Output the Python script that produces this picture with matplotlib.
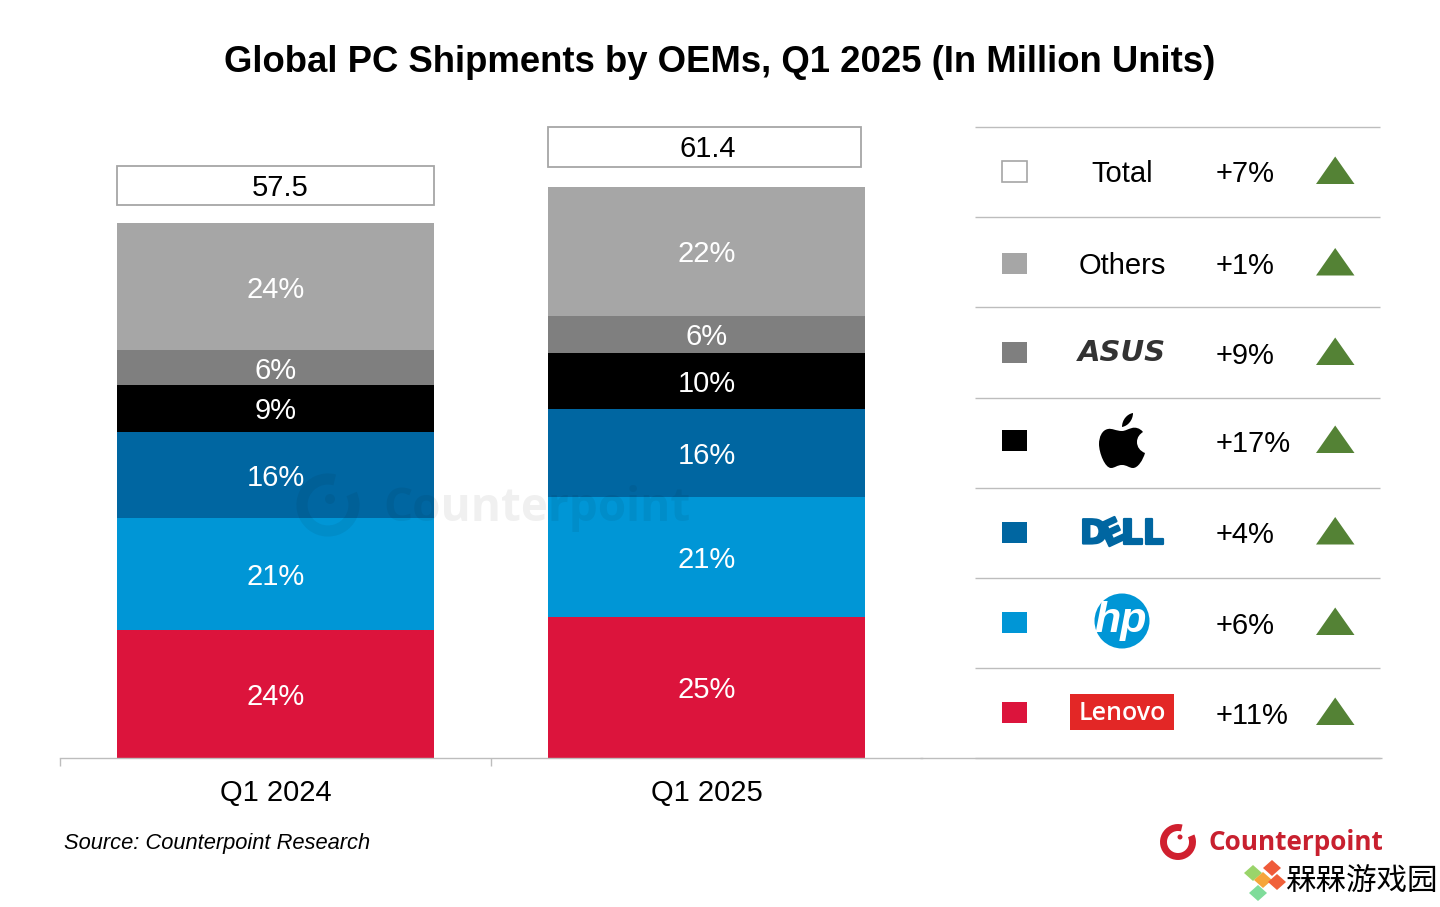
import matplotlib
matplotlib.use('Agg')
import matplotlib.pyplot as plt
import matplotlib.patheffects as pe
from matplotlib.patches import Polygon, Rectangle, Circle, Arc, PathPatch
from matplotlib.path import Path

plt.rcParams['font.family'] = ['Liberation Sans', 'DejaVu Sans']

# data (million units, bottom to top)
quarters = ['Q1 2024', 'Q1 2025']
totals = [57.5, 61.4]
lenovo = [13.78, 15.18]
hp = [12.06, 12.92]
dell = [9.26, 9.47]
apple = [5.06, 6.03]
asus = [3.66, 3.98]
others = [13.68, 13.82]
lenovo_pct = ['24%', '25%']
hp_pct = ['21%', '21%']
dell_pct = ['16%', '16%']
apple_pct = ['9%', '10%']
asus_pct = ['6%', '6%']
others_pct = ['24%', '22%']

row_names = ['Total', 'Others', 'Asus', 'Apple', 'Dell', 'HP', 'Lenovo']
row_changes = ['+7%', '+1%', '+9%', '+17%', '+4%', '+6%', '+11%']

GREY = '#a6a6a6'
LINE = '#bdbdbd'
series = [
    (lenovo, lenovo_pct, '#dc143c'),
    (hp, hp_pct, '#0096d6'),
    (dell, dell_pct, '#0066a1'),
    (apple, apple_pct, '#000000'),
    (asus, asus_pct, '#7f7f7f'),
    (others, others_pct, GREY),
]
row_colors = ['white', GREY, '#7f7f7f', '#000000', '#0066a1', '#0096d6', '#dc143c']

W, H = 1440, 907
fig = plt.figure(figsize=(W / 100, H / 100), dpi=100, facecolor='white')

# bar chart axes, placed by pixels: x 60-920, baseline at 758
ax = fig.add_axes([60 / W, (H - 758) / H, 862 / W, 638 / H])
ax.set_xlim(-0.5, 1.5)
ax.set_ylim(0, 638 / 9.3)
ax.patch.set_alpha(0)
for side in ['top', 'left', 'right']:
    ax.spines[side].set_visible(False)
ax.spines['bottom'].set_color(LINE)
ax.spines['bottom'].set_linewidth(1.0)
ax.set_yticks([])
ax.set_xticks([0, 1])
ax.set_xticklabels(quarters, fontsize=21, color='black')
ax.tick_params(axis='x', which='major', length=0, pad=15)
ax.set_xticks([-0.5, 0.5], minor=True)
ax.tick_params(axis='x', which='minor', length=5.5, color=LINE, width=1)

bottom = [0, 0]
for values, pct, color in series:
    bars = ax.bar([0, 1], values, width=0.735, bottom=bottom, color=color, linewidth=0)
    labels = ax.bar_label(bars, labels=pct, label_type='center', color='white', fontsize=21)
    for lab in labels:
        lab.xyann = (0, -2.2)
    bottom = [b + v for b, v in zip(bottom, values)]

# overlay in pixel coordinates for everything around the bars
ov = fig.add_axes([0, 0, 1, 1])
ov.set_xlim(0, W)
ov.set_ylim(H, 0)
ov.axis('off')
ov.patch.set_alpha(0)

ov.text(720, 62, 'Global PC Shipments by OEMs, Q1 2025 (In Million Units)',
        ha='center', va='center', fontsize=26.3, fontweight='bold', color='black')

# total boxes above the bars
ov.add_patch(Rectangle((117, 166), 317, 39, fc='white', ec=GREY, lw=1.3))
ov.add_patch(Rectangle((548, 127), 313, 40, fc='white', ec=GREY, lw=1.3))
ov.text(280, 188, f'{totals[0]}', ha='center', va='center', fontsize=21)
ov.text(708, 149, f'{totals[1]}', ha='center', va='center', fontsize=21)

# watermark
wm = dict(color='#000000', alpha=0.06)
ov.add_patch(Arc((328, 505), 52, 52, theta1=-25, theta2=285, lw=8, **wm))
ov.add_patch(Circle((330, 499), 5, lw=0, **wm))
ov.text(537, 509, 'Counterpoint', ha='center', va='center', fontsize=33,
        fontweight='bold', family='Open Sans', **wm)

# table on the right
row_lines = [127, 217, 307, 398, 488, 578, 668, 758]
for y in row_lines:
    ov.plot([975, 1380], [y, y], color=LINE, lw=1.0, solid_capstyle='butt')
ov.plot([920, 1382], [758, 758], color=LINE, lw=1.0, solid_capstyle='butt')

row_y = [171.5, 263, 352.5, 440.5, 532, 622.5, 712.5]
for name, change, color, y in zip(row_names, row_changes, row_colors, row_y):
    ec = GREY if color == 'white' else color
    ov.add_patch(Rectangle((1002, y - 10.5), 25, 21, fc=color, ec=ec, lw=1.2 if color == 'white' else 0))
    ov.text(1216, y + 3, change, ha='left', va='center', fontsize=21)
    ov.add_patch(Polygon([(1316, y + 12.5), (1354.5, y + 12.5), (1335.2, y - 15)],
                         closed=True, fc='#548235', ec='none'))

ov.text(1122, row_y[0] + 3, row_names[0], ha='center', va='center', fontsize=21)
ov.text(1122, row_y[1] + 3, row_names[1], ha='center', va='center', fontsize=21)

# logos
ov.text(1122, 353, 'ASUS', ha='center', va='center', fontsize=21, color='#333333',
        family='DejaVu Sans', fontweight='bold', fontstyle='oblique')

apple_verts = [
    (1122, 431),
    (1116, 431), (1112, 428), (1108, 429),
    (1102, 430), (1099, 437), (1099, 444),
    (1099, 453), (1105, 468), (1111, 468),
    (1115, 468), (1117, 465), (1122, 465),
    (1127, 465), (1129, 468), (1133, 468),
    (1138, 468), (1143, 460), (1145, 453),
    (1140, 451), (1137, 447), (1137, 442),
    (1137, 437), (1140, 434), (1143, 432),
    (1140, 428), (1135, 427), (1132, 428),
    (1128, 429), (1125, 431), (1122, 431),
    (1122, 427),
    (1122, 420), (1127, 414), (1133, 413),
    (1133, 420), (1128, 426), (1122, 427),
]
apple_codes = [Path.MOVETO] + [Path.CURVE4] * 30 + [Path.MOVETO] + [Path.CURVE4] * 6
ov.add_patch(PathPatch(Path(apple_verts, apple_codes), fc='black', ec='none'))

dell_kw = dict(va='center', color='#0066a1', fontweight='bold', fontsize=24, family='DejaVu Sans',
               path_effects=[pe.withStroke(linewidth=1.6, foreground='#0066a1')])
ov.text(1080, 534, 'D', ha='left', **dell_kw)
ov.text(1113, 534, 'E', ha='center', rotation=25, **dell_kw)
ov.text(1164, 534, 'LL', ha='right', **dell_kw)

hp_circle = Circle((1122, 621), 27.5, fc='#0096d6', ec='none')
ov.add_patch(hp_circle)
hp_text = ov.text(1121, 621, 'hp', ha='center', va='center', color='white', fontsize=31,
                  fontweight='bold', fontstyle='italic')
hp_text.set_clip_path(hp_circle)

ov.add_patch(Rectangle((1070, 694), 104, 36, fc='#e32726', ec='none'))
ov.text(1122, 714, 'Lenovo', ha='center', va='center', color='white', fontsize=18,
        family='Open Sans', fontweight='semibold')

ov.text(64, 844, 'Source: Counterpoint Research', ha='left', va='center', fontsize=15.75,
        fontstyle='italic')

# Counterpoint logo bottom right
ov.add_patch(Arc((1178, 842), 29, 29, theta1=-25, theta2=285, lw=5, color='#d0202f'))
ov.add_patch(Circle((1180, 837), 2.5, fc='#d0202f', ec='none'))
ov.text(1209, 843, 'Counterpoint', ha='left', va='center', fontsize=18.8, color='#c8202f',
        family='Open Sans', fontweight='bold')

# site stamp
for (cx, cy), c in zip([(1272, 868), (1253, 873), (1263, 880), (1277, 882), (1258, 893)],
                       ['#ef5b3a', '#9ad46a', '#f6a53a', '#f0603a', '#7fdc9a']):
    ov.add_patch(Polygon([(cx - 9, cy), (cx, cy - 8), (cx + 9, cy), (cx, cy + 8)],
                         closed=True, fc=c, ec='none'))
ov.text(1285, 881, '槑槑游戏园', ha='left', va='center', fontsize=22, color='black',
        family=['Noto Sans CJK SC', 'DejaVu Sans'])

fig.savefig('out.png', dpi=100)
